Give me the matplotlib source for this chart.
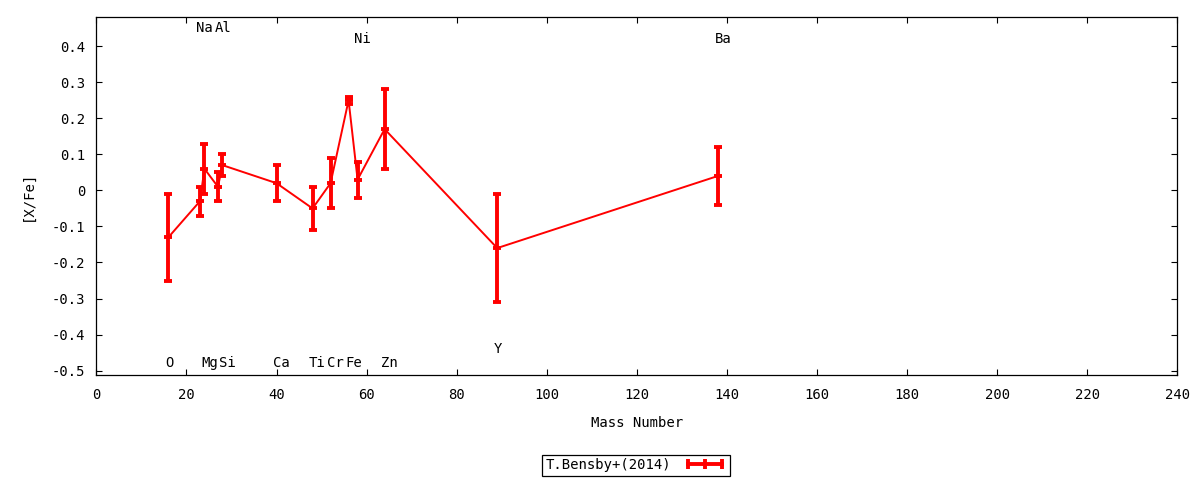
import matplotlib
matplotlib.use("Agg")
import matplotlib.pyplot as plt
from matplotlib.lines import Line2D

# Abundance pattern, T.Bensby+(2014)
elements = ["O", "Na", "Mg", "Al", "Si", "Ca", "Ti", "Cr", "Fe", "Ni", "Zn", "Y", "Ba"]
mass = [16, 23, 24, 27, 28, 40, 48, 52, 56, 58, 64, 89, 138]
xfe = [-0.13, -0.03, 0.06, 0.01, 0.07, 0.02, -0.05, 0.02, 0.25, 0.03, 0.17, -0.16, 0.04]
xfe_err = [0.12, 0.04, 0.07, 0.04, 0.03, 0.05, 0.06, 0.07, 0.01, 0.05, 0.11, 0.15, 0.08]
# where each element name is written
label_y = [-0.48, 0.45, -0.48, 0.45, -0.48, -0.48, -0.48, -0.48, -0.48, 0.42, -0.48, -0.44, 0.42]

x_ticks = list(range(0, 241, 20))
y_ticks = [-0.5, -0.4, -0.3, -0.2, -0.1, 0, 0.1, 0.2, 0.3, 0.4]
y_ticklabels = ["-0.5", "-0.4", "-0.3", "-0.2", "-0.1", "0", "0.1", "0.2", "0.3", "0.4"]

plt.rcParams["font.family"] = ["DejaVu Sans Mono"]
plt.rcParams["font.size"] = 10

fig = plt.figure(figsize=(12, 4.8), dpi=100)
ax = fig.add_axes([0.0803, 0.2188, 0.9008, 0.7458])

ax.errorbar(mass, xfe, yerr=xfe_err, color="#ff0000", lw=1.4,
            elinewidth=2.8, capsize=3, capthick=2.6,
            marker="_", markersize=6, mew=2.8)

for name, m, ly in zip(elements, mass, label_y):
    ax.annotate(name, (m, ly), xytext=(-2.5, 0), textcoords="offset points",
                ha="left", va="center", fontsize=10)

ax.set_xlim(0, 240)
ax.set_ylim(-0.512, 0.481)
ax.set_xticks(x_ticks)
ax.set_yticks(y_ticks)
ax.set_yticklabels(y_ticklabels)
ax.tick_params(direction="in", length=4, width=0.8, top=True, right=True)
ax.tick_params(axis="x", pad=9.5)
ax.tick_params(axis="y", pad=8)
for s in ax.spines.values():
    s.set_linewidth(0.9)

ax.set_xlabel("Mass Number", labelpad=10)
ax.set_ylabel("[X/Fe]", labelpad=12)

# gnuplot-style key sample: thick bar with ticks at both ends and middle
handle = Line2D([], [], color="#ff0000", lw=2.8, marker="|",
                markersize=7, mew=2.8, label="T.Bensby+(2014)")
leg = fig.legend(handles=[handle], loc="center", bbox_to_anchor=(0.53, 0.031),
                 numpoints=3, markerfirst=False, fancybox=False, framealpha=1,
                 edgecolor="black", handlelength=3.1, borderpad=0.25,
                 handletextpad=0.9, borderaxespad=0)
leg.get_frame().set_linewidth(0.9)

fig.savefig("out.png", dpi=100)
